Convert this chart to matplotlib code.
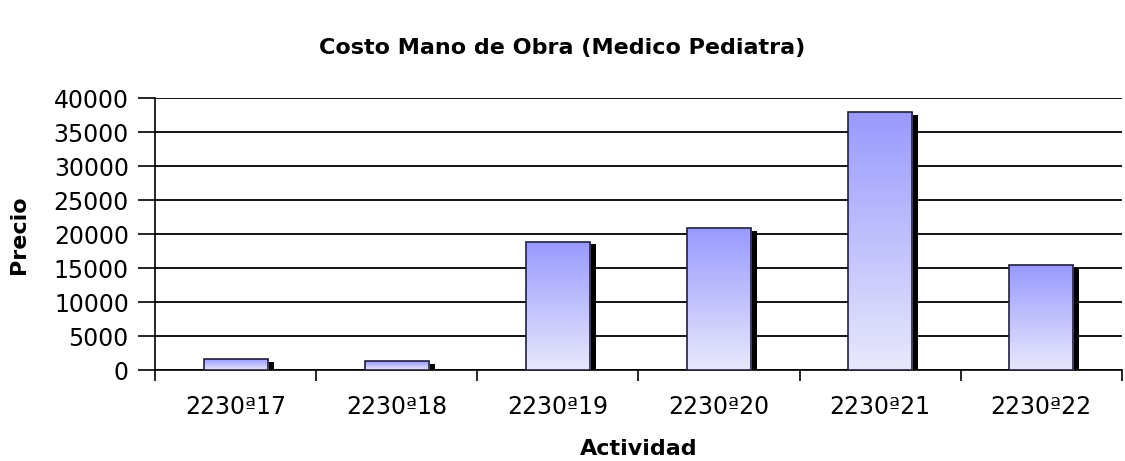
import numpy as np
import matplotlib.pyplot as plt
from matplotlib.colors import LinearSegmentedColormap
from matplotlib.patches import Rectangle

plt.rcParams['font.family'] = ['DejaVu Sans']

# Data
actividades = ['2230ª17', '2230ª18', '2230ª19', '2230ª20', '2230ª21', '2230ª22']
precios = [1600, 1300, 18900, 20900, 38000, 15400]

fig = plt.figure(figsize=(11.25, 4.61), dpi=100)
ax = fig.add_axes([0.138, 0.197, 0.859, 0.59])

x = np.arange(len(actividades))
width = 0.40
cmap = LinearSegmentedColormap.from_list('grad', ['#e8e8fc', '#9999ff'])

for i, v in zip(x, precios):
    # shadow
    ax.add_patch(Rectangle((i - width / 2 + 0.036, -400), width, v,
                           facecolor='black', edgecolor='none', zorder=2))
    bar = ax.bar(i, v, width, color='none', edgecolor='#202040', linewidth=1.2, zorder=4)[0]
    grad = np.linspace(0, 1, 256).reshape(-1, 1)
    im = ax.imshow(grad, cmap=cmap, aspect='auto', origin='lower',
                   extent=[i - width / 2, i + width / 2, 0, v], zorder=3)
    im.set_clip_path(bar)

ax.set_xlim(-0.5, len(actividades) - 0.5)
ax.set_ylim(0, 40000)

ax.set_yticks(np.arange(0, 40001, 5000))
ax.yaxis.grid(True, color='black', linewidth=1.3)
ax.set_axisbelow(True)
ax.set_xticks(x)
ax.set_xticklabels(actividades)
ax.set_xticks(np.arange(-0.5, len(actividades)), minor=True)
ax.tick_params(axis='x', which='major', length=0, pad=18, labelsize=17)
ax.tick_params(axis='x', which='minor', length=8, width=1.2, direction='out')
ax.tick_params(axis='y', length=12, width=1.2, direction='out', labelsize=17, pad=7)

for s in ['top', 'right']:
    ax.spines[s].set_visible(False)
ax.spines['left'].set_linewidth(1.2)
ax.spines['bottom'].set_linewidth(1.2)

ax.set_xlabel('Actividad', fontsize=16, fontweight='bold', labelpad=14)
ax.set_ylabel('Precio', fontsize=16, fontweight='bold', labelpad=18)
fig.suptitle('Costo Mano de Obra (Medico Pediatra)', fontsize=16, fontweight='bold', y=0.918)

fig.savefig('out.png', dpi=100)
